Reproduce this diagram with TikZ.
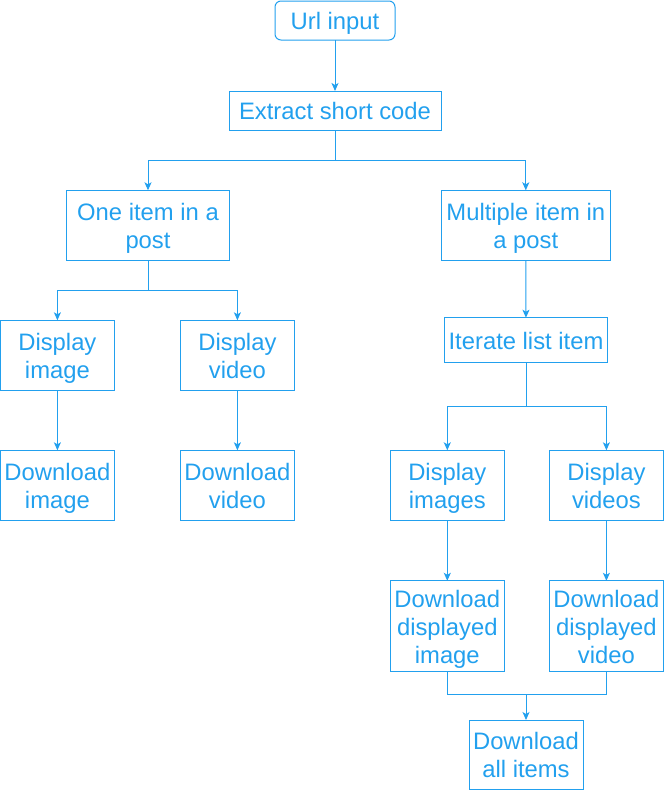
\documentclass[tikz,border=0pt]{standalone}
\usepackage{fontspec}
\setmainfont{Liberation Sans}
\usetikzlibrary{arrows.meta}
\definecolor{flowblue}{HTML}{22A0EE}
\newcommand\onestrut{\rule[-6pt]{0pt}{30pt}}
\newcommand\tl{\rule{0pt}{24.5pt}}
\newcommand\botstrut{\rule[-6pt]{0pt}{24pt}}
\begin{document}
\begin{tikzpicture}[x=1pt,y=-1pt,
  base/.style={draw=flowblue,line width=1pt,text=flowblue,align=center,
    inner sep=0pt,outer sep=0pt,font=\fontsize{23.8}{28}\selectfont},
  box/.style={base,execute at begin node=\onestrut},
  mbox/.style={base,execute at end node=\botstrut},
  conn/.style={draw=flowblue,line width=1pt},
  arr/.style={conn,-{Stealth[length=8pt,width=7pt,inset=2pt]}}]
\useasboundingbox (0,0) rectangle (664,790);
\node[box,rounded corners=6pt,minimum width=120pt,minimum height=39pt] (url) at (335,20.5) {Url input};
\node[box,minimum width=212pt,minimum height=39pt] (ext) at (335,110.5) {Extract short code};
\node[mbox,minimum width=163pt,minimum height=70pt] (one) at (148,225.3) {\tl One item in a\\post};
\node[mbox,minimum width=169pt,minimum height=70pt] (multi) at (525.8,225.3) {\tl Multiple item in\\a post};
\node[mbox,minimum width=114pt,minimum height=70pt] (dimg) at (57.4,355.3) {\tl Display\\image};
\node[mbox,minimum width=114pt,minimum height=70pt] (dvid) at (237.4,355.3) {\tl Display\\video};
\node[box,minimum width=163pt,minimum height=45pt] (iter) at (526,340.2) {Iterate list item};
\node[mbox,minimum width=114pt,minimum height=70pt] (dlimg) at (57.4,485.3) {\tl Download\\image};
\node[mbox,minimum width=114pt,minimum height=70pt] (dlvid) at (237.4,485.3) {\tl Download\\video};
\node[mbox,minimum width=114pt,minimum height=70pt] (dimgs) at (447.3,485.3) {\tl Display\\images};
\node[mbox,minimum width=114pt,minimum height=70pt] (dvids) at (606.4,485.3) {\tl Display\\videos};
\node[mbox,minimum width=114pt,minimum height=91pt] (ddimg) at (447.3,626.3) {\tl Download\\displayed\\image};
\node[mbox,minimum width=114pt,minimum height=91pt] (ddvid) at (606.4,626.3) {\tl Download\\displayed\\video};
\node[mbox,minimum width=114pt,minimum height=69pt] (all) at (526,754.5) {\tl Download\\all items};
\draw[arr] (url) -- (ext);
\draw[arr] (ext.south) -- ++(0,30) -| (one.north);
\draw[arr] (ext.south) -- ++(0,30) -| (multi.north);
\draw[arr] (one.south) -- ++(0,30) -| (dimg.north);
\draw[arr] (one.south) -- ++(0,30) -| (dvid.north);
\draw[arr] (multi) -- (iter);
\draw[arr] (iter.south) -- ++(0,44) -| (dimgs.north);
\draw[arr] (iter.south) -- ++(0,44) -| (dvids.north);
\draw[arr] (dimg) -- (dlimg);
\draw[arr] (dvid) -- (dlvid);
\draw[arr] (dimgs) -- (ddimg);
\draw[arr] (dvids) -- (ddvid);
\draw[conn] (ddimg.south) -- ++(0,23) -| (ddvid.south);
\coordinate (join) at (all.north |- 0,695);
\draw[arr] (join) -- (all.north);
\end{tikzpicture}
\end{document}
